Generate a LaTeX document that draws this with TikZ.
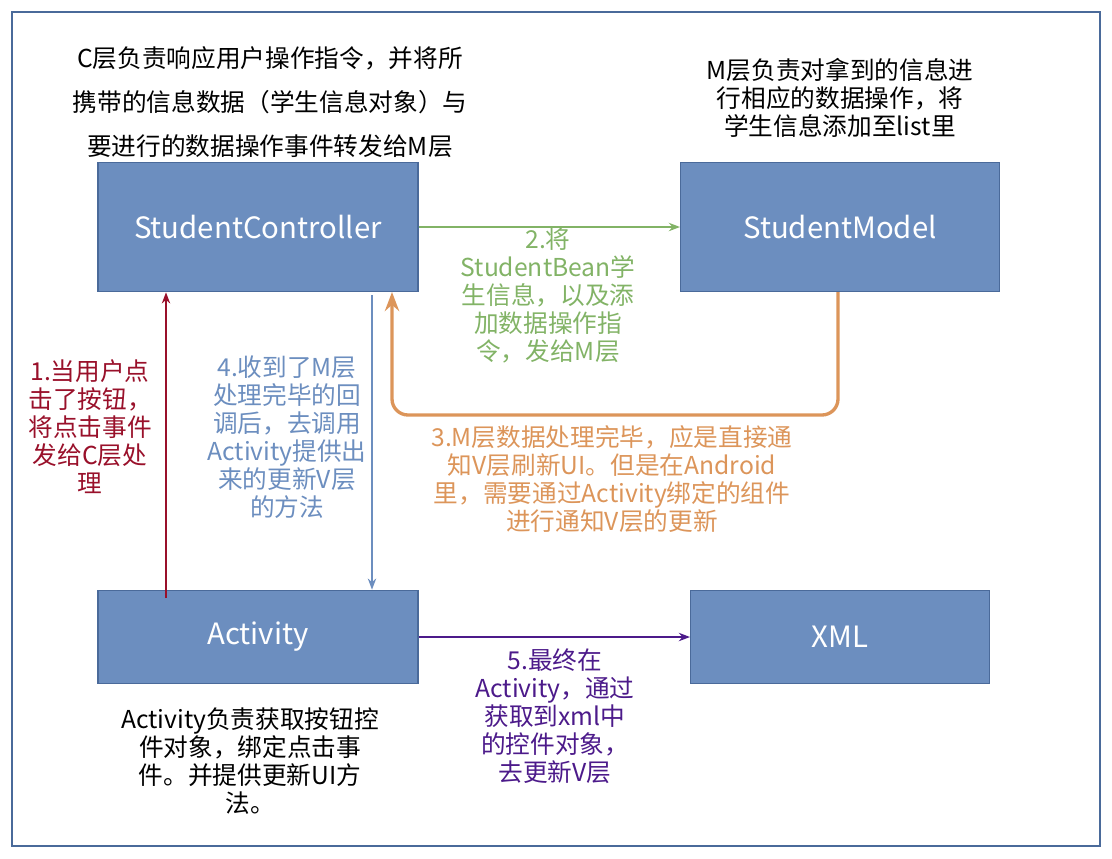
\documentclass[tikz,border=0pt]{standalone}
\usepackage{fontspec}
\setmainfont{Noto Sans CJK SC}
\usetikzlibrary{arrows.meta}
\definecolor{boxfill}{HTML}{6C8EBF}
\definecolor{boxline}{HTML}{4A6A9A}
\definecolor{ctlred}{HTML}{99102A}
\definecolor{mdlgreen}{HTML}{82B366}
\definecolor{cbblue}{HTML}{6C8EBF}
\definecolor{rtorange}{HTML}{DC955A}
\definecolor{uipurple}{HTML}{4C1A8A}
\begin{document}
\begin{tikzpicture}[x=0.75pt,y=-0.75pt,>=Stealth,
  box/.style={draw=boxline,fill=boxfill,line width=1pt,font=\fontsize{22}{26}\selectfont,text=white},
  note/.style={align=center,font=\fontsize{18.5}{21}\selectfont}]
  \useasboundingbox (0,0) rectangle (1112,858);
  \draw[boxline,line width=0.8pt] (12,12) rectangle (1100,846);

  \node[box,minimum width=240pt,minimum height=97pt] (ctl) at (258,227) {StudentController};
  \node[box,minimum width=239pt,minimum height=97pt] (mdl) at (840,227) {StudentModel};
  \node[box,minimum width=240pt,minimum height=70pt] (act) at (258,637) {Activity};
  \node[box,minimum width=224pt,minimum height=70pt] (xml) at (840,637) {XML};

  \coordinate (cb) at (372,295);
  \coordinate (rt) at (392,292);
  \coordinate (cl) at (166,598);

  \draw[->,mdlgreen,line width=1.2pt] (ctl.east) -- (mdl.west);
  \draw[->,ctlred,line width=1.2pt] (cl) -- (cl |- ctl.south);
  \draw[->,cbblue,line width=1.2pt] (cb) -- (cb |- act.north);
  \draw[->,rtorange,line width=2.5pt,rounded corners=12pt]
    (838,292) -- (838,415) -- (392,415) -- (rt);
  \draw[->,uipurple,line width=1.2pt] (act.east) -- (xml.west);

  \node[note] (ctlnote) at (270,102) {C层负责响应用户操作指令，并将所\\[12pt]携带的信息数据（学生信息对象）与\\[12pt]要进行的数据操作事件转发给M层};
  \node[note] (mdlnote) at (840,98) {M层负责对拿到的信息进\\行相应的数据操作，将\\学生信息添加至list里};
  \node[note,text=mdlgreen] (step2) at (548,295) {2.将\\StudentBean学\\生信息，以及添\\加数据操作指\\令，发给M层};
  \node[note,text=ctlred] (step1) at (90,427) {1.当用户点\\击了按钮，\\将点击事件\\发给C层处\\理};
  \node[note,text=cbblue] (step4) at (287,437) {4.收到了M层\\处理完毕的回\\调后，去调用\\Activity提供出\\来的更新V层\\的方法};
  \node[note,text=rtorange] (step3) at (612,479) {3.M层数据处理完毕，应是直接通\\知V层刷新UI。但是在Android\\里，需要通过Activity绑定的组件\\进行通知V层的更新};
  \node[note] (actnote) at (250,761) {Activity负责获取按钮控\\件对象，绑定点击事\\件。并提供更新UI方\\法。};
  \node[note,text=uipurple] (step5) at (555,716) {5.最终在\\Activity，通过\\获取到xml中\\的控件对象，\\去更新V层};
\end{tikzpicture}
\end{document}
